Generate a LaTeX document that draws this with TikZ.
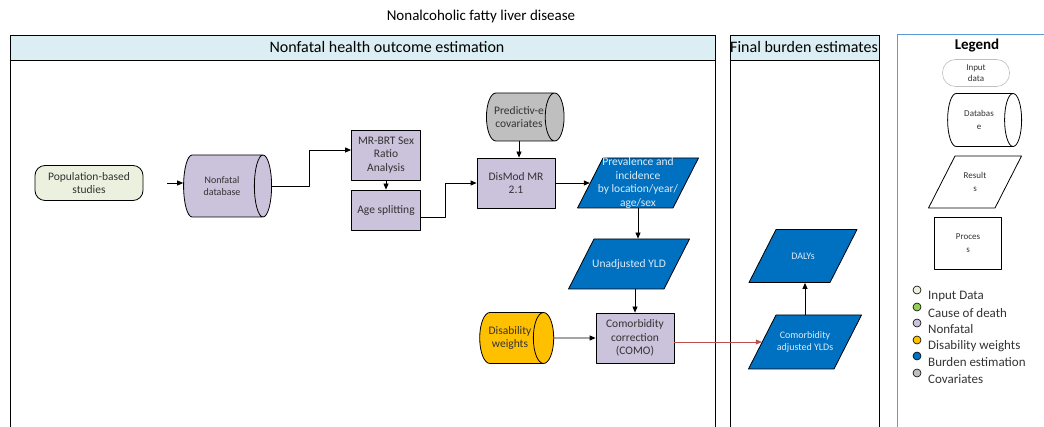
\documentclass[tikz,border=0pt]{standalone}
\usepackage{fontspec}
\setmainfont{Carlito}
\usepackage{tikz}
\usetikzlibrary{arrows.meta,shapes.geometric}
\definecolor{LiverLilac}{HTML}{CBC2DB}
\definecolor{LiverInput}{HTML}{EBF1DE}
\definecolor{LiverBlue}{HTML}{0070C0}
\definecolor{LiverBlueText}{HTML}{DDEBF7}
\definecolor{LiverYellow}{HTML}{FFC000}
\definecolor{LiverGray}{HTML}{BFBFBF}
\definecolor{LiverGreen}{HTML}{92D050}
\definecolor{LiverHead}{HTML}{DAEEF3}
\definecolor{LiverFrame}{HTML}{5B9BD5}
\definecolor{LiverRed}{HTML}{C0504D}
\definecolor{LiverInk}{HTML}{333333}

\tikzset{
  boxtext/.style={align=center, text=LiverInk, font=\fontsize{11.5}{13.5}\selectfont},
  bluetext/.style={boxtext, text=LiverBlueText},
  process/.style={draw, line width=0.8pt, fill=LiverLilac, inner sep=1pt, boxtext},
  dbase/.style={draw, line width=0.8pt, cylinder, shape aspect=0.8, fill=#1, inner sep=1pt, boxtext},
  result/.style={draw, line width=0.8pt, trapezium, trapezium left angle=63, trapezium right angle=117,
    inner sep=0pt, text height=#1, text depth=#1, fill=LiverBlue},
  flow/.style={-{Triangle[length=6pt,width=5pt]}, line width=0.8pt},
  keydot/.style={circle, draw, line width=0.6pt, inner sep=0pt, minimum size=8pt},
}

\begin{document}
\begin{tikzpicture}[x=1pt, y=-1pt, line join=round]
  \useasboundingbox (0,0) rectangle (1044,427);
  \node[font=\fontsize{15}{18}\selectfont] (title) at (481,17) {Nonalcoholic fatty liver disease};

  \draw[line width=0.8pt] (10,427) -- (10,35) -- (715,35) -- (715,427);
  \draw[line width=0.8pt, fill=LiverHead] (10,35) rectangle (715,60);
  \node[font=\fontsize{16}{19}\selectfont] (nfhead) at (387,47.5) {Nonfatal health outcome estimation};
  \draw[line width=0.8pt] (730,427) -- (730,35) -- (879,35) -- (879,427);
  \draw[line width=0.8pt, fill=LiverHead] (730,35) rectangle (879,60);
  \node[font=\fontsize{16}{19}\selectfont] (fbhead) at (804,47.5) {Final burden estimates};
  \draw[LiverFrame, line width=0.7pt] (897,427) -- (897,34) -- (1044,34);
  \node[font=\bfseries\fontsize{15}{18}\selectfont] (leghead) at (977,46) {Legend};

  \node[draw, line width=0.8pt, fill=LiverInput, rounded corners=10pt, minimum width=108pt, minimum height=35pt,
    inner sep=1pt, boxtext] (studies) at (89,183) {Population-based\\studies};
  \node[dbase=LiverLilac, minimum height=88pt, minimum width=62pt, font=\fontsize{10}{12.5}\selectfont] (nfdb) at (222,186) {Nonfatal\\database};
  \node[process, minimum width=69pt, minimum height=50pt] (mrbrt) at (386,155) {MR-BRT Sex\\Ratio\\Analysis};
  \node[process, minimum width=69pt, minimum height=40pt] (agesplit) at (386,210) {Age splitting};
  \node[dbase=LiverGray, minimum height=68pt, minimum width=48pt] (covar) at (519,117) {Predictiv-e\\covariates};
  \node[process, minimum width=78pt, minimum height=50pt] (dismod) at (516,183) {DisMod MR\\2.1};
  \node[result=25pt, text width=70pt,
    label={[bluetext]center:Prevalence and\\incidence\\by location/year/\\age/sex}] (previnc) at (638,183) {};
  \node[result=25pt, text width=70pt, label={[bluetext]center:Unadjusted YLD}] (unadj) at (629,264) {};
  \node[dbase=LiverYellow, minimum height=74pt, minimum width=51pt] (dw) at (510,338) {Disability\\weights};
  \node[process, minimum width=78pt, minimum height=50pt] (como) at (635,338) {Comorbidity\\correction\\(COMO)};
  \node[result=26.5pt, text width=54pt,
    label={[bluetext, font=\fontsize{10}{12}\selectfont]center:DALYs}] (dalys) at (803,256) {};
  \node[result=27pt, text width=58pt,
    label={[bluetext, font=\fontsize{10}{12}\selectfont]center:Comorbidity\\adjusted YLDs}] (adjyld) at (805,342) {};

  \draw[flow, shorten <=24pt] (studies.east) -- (studies.east -| nfdb.west);
  \draw[flow] (nfdb.east) -- ++(37,0) |- ([yshift=5pt]mrbrt.west);
  \draw[flow] (mrbrt) -- (agesplit);
  \draw[flow] ([yshift=-7pt]agesplit.east) -- ++(24,0) |- (dismod.west);
  \draw[flow] (covar.south) -- (covar.south |- dismod.north);
  \draw[flow] (dismod) -- (previnc);
  \draw[flow] (previnc.south) -- (previnc.south |- unadj.north);
  \draw[flow] (como.north |- unadj.south) -- (como.north);
  \draw[flow] (dw) -- (como);
  \draw[flow, LiverRed, line width=0.6pt] (como.east |- adjyld.west) -- (adjyld.west);
  \draw[flow] (adjyld.north) -- (adjyld.north |- dalys.south);

  \node[draw=LiverGray, line width=0.6pt, rounded corners=13pt, minimum width=67pt, minimum height=27pt, inner sep=1pt,
    boxtext, font=\fontsize{9}{11}\selectfont] (leginput) at (976,73) {Input\\data};
  \node[dbase=white, minimum height=74pt, minimum width=53pt, font=\fontsize{9}{13}\selectfont] (legdb) at (979,120) {Databas\\e};
  \node[result=26pt, fill=white, text width=40pt,
    label={[boxtext, font=\fontsize{9}{13}\selectfont]center:Result\\s}] (legres) at (975,182) {};
  \node[process, fill=white, minimum width=67pt, minimum height=52pt, font=\fontsize{9}{13}\selectfont] (legproc) at (968,243) {Proces\\s};

  \foreach \col/\txt/\y [count=\i] in {LiverInput/Input Data/290, LiverGreen/Cause of death/307,
      LiverLilac/Nonfatal/323, LiverYellow/Disability weights/340, LiverBlue/Burden estimation/356,
      LiverGray/Covariates/373} {
    \node[keydot, fill=\col] (dot\i) at (917,\y) {};
    \node[anchor=west, inner sep=0pt, text=LiverInk, font=\fontsize{13}{15}\selectfont] (key\i) at (928,\y+6) {\txt};
  }
\end{tikzpicture}
\end{document}
